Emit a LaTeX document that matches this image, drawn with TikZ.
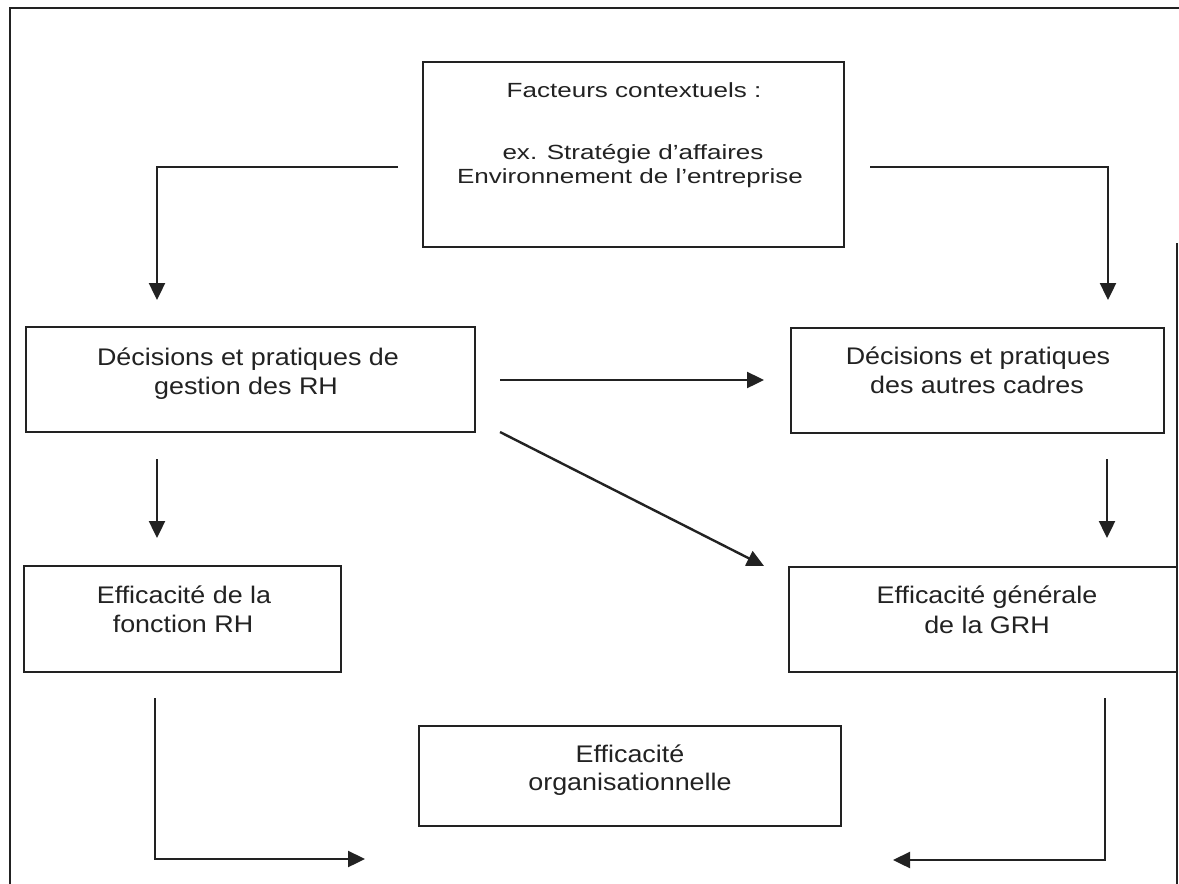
\documentclass[tikz,border=0pt]{standalone}
\usepackage{fontspec}
\setmainfont{Liberation Sans}[FakeStretch=1.12]
\newfontfamily\ctxfont{Liberation Sans}[FakeStretch=1.27]
\usetikzlibrary{arrows.meta}
\definecolor{ink}{HTML}{222222}
\begin{document}
\begin{tikzpicture}[x=1pt,y=-1pt,
  box/.style={draw=ink, line width=2.4pt, rectangle, inner sep=0pt},
  lbl/.style={anchor=base, inner sep=0pt, text=ink, font=\fontsize{24}{28}\selectfont},
  ctxlbl/.style={anchor=base, inner sep=0pt, text=ink, font=\ctxfont\fontsize{20.5}{24}\selectfont},
  link/.style={draw=ink, line width=2.4pt, -{Triangle[width=16pt,length=17pt]}},
  frameline/.style={draw=ink, line width=1.8pt}]
\useasboundingbox (0,0) rectangle (1179,884);
\fill[white] (0,0) rectangle (1179,884);

% outer frame
\draw[frameline] (1179,8) -- (10,8) -- (10,884);
\draw[frameline] (1177,243) -- (1177,884);

% boxes
\node[box, minimum width=421pt, minimum height=185pt] (ctx) at (633.5,154.5) {};
\node[box, minimum width=449pt, minimum height=105pt] (rh)  at (250.5,379.5) {};
\node[box, minimum width=373pt, minimum height=105pt] (oth) at (977.5,380.5) {};
\node[box, minimum width=317pt, minimum height=106pt] (frh) at (182.5,619) {};
\node[box, minimum width=388pt, minimum height=105pt] (grh) at (983,619.5) {};
\node[box, minimum width=422pt, minimum height=100pt] (org) at (630,776) {};

% box texts
\node[ctxlbl] (ctx1) at (634,97)  {Facteurs contextuels :};
\node[ctxlbl] (ctx2) at (633,159) {ex. Stratégie d’affaires};
\node[ctxlbl] (ctx3) at (630,183) {Environnement de l’entreprise};

\node[lbl] (rh1) at (248,365) {Décisions et pratiques de};
\node[lbl] (rh2) at (246,394) {gestion des RH};

\node[lbl] (oth1) at (978,364) {Décisions et pratiques};
\node[lbl] (oth2) at (977,393) {des autres cadres};

\node[lbl] (frh1) at (184,603) {Efficacité de la};
\node[lbl] (frh2) at (183,632) {fonction RH};

\node[lbl] (grh1) at (987,603) {Efficacité générale};
\node[lbl] (grh2) at (987,633) {de la GRH};

\node[lbl] (org1) at (630,762) {Efficacité};
\node[lbl] (org2) at (630,790) {organisationnelle};

% connector ends
\coordinate (ctxL)   at (398,167);
\coordinate (rhIn)   at (157,300);
\coordinate (ctxR)   at (870,167);
\coordinate (othIn)  at (1108,300);
\coordinate (rhOut)  at (500,380);
\coordinate (othSide) at (764,380);
\coordinate (rhDiag) at (500,432);
\coordinate (grhTop) at (764,566);
\coordinate (rhDown) at (157,459);
\coordinate (frhIn)  at (157,538);
\coordinate (othDown) at (1107,459);
\coordinate (grhIn)  at (1107,538);
\coordinate (frhOut) at (155,698);
\coordinate (orgL)   at (365,859);
\coordinate (grhOut) at (1105,698);
\coordinate (orgR)   at (893,860);

% connectors
\draw[link] (ctxL) -| (rhIn);
\draw[link] (ctxR) -| (othIn);
\draw[link] (rhOut) -- (othSide);
\draw[link] (rhDiag) -- (grhTop);
\draw[link] (rhDown) -- (frhIn);
\draw[link] (othDown) -- (grhIn);
\draw[link] (frhOut) |- (orgL);
\draw[link] (grhOut) |- (orgR);
\end{tikzpicture}
\end{document}
